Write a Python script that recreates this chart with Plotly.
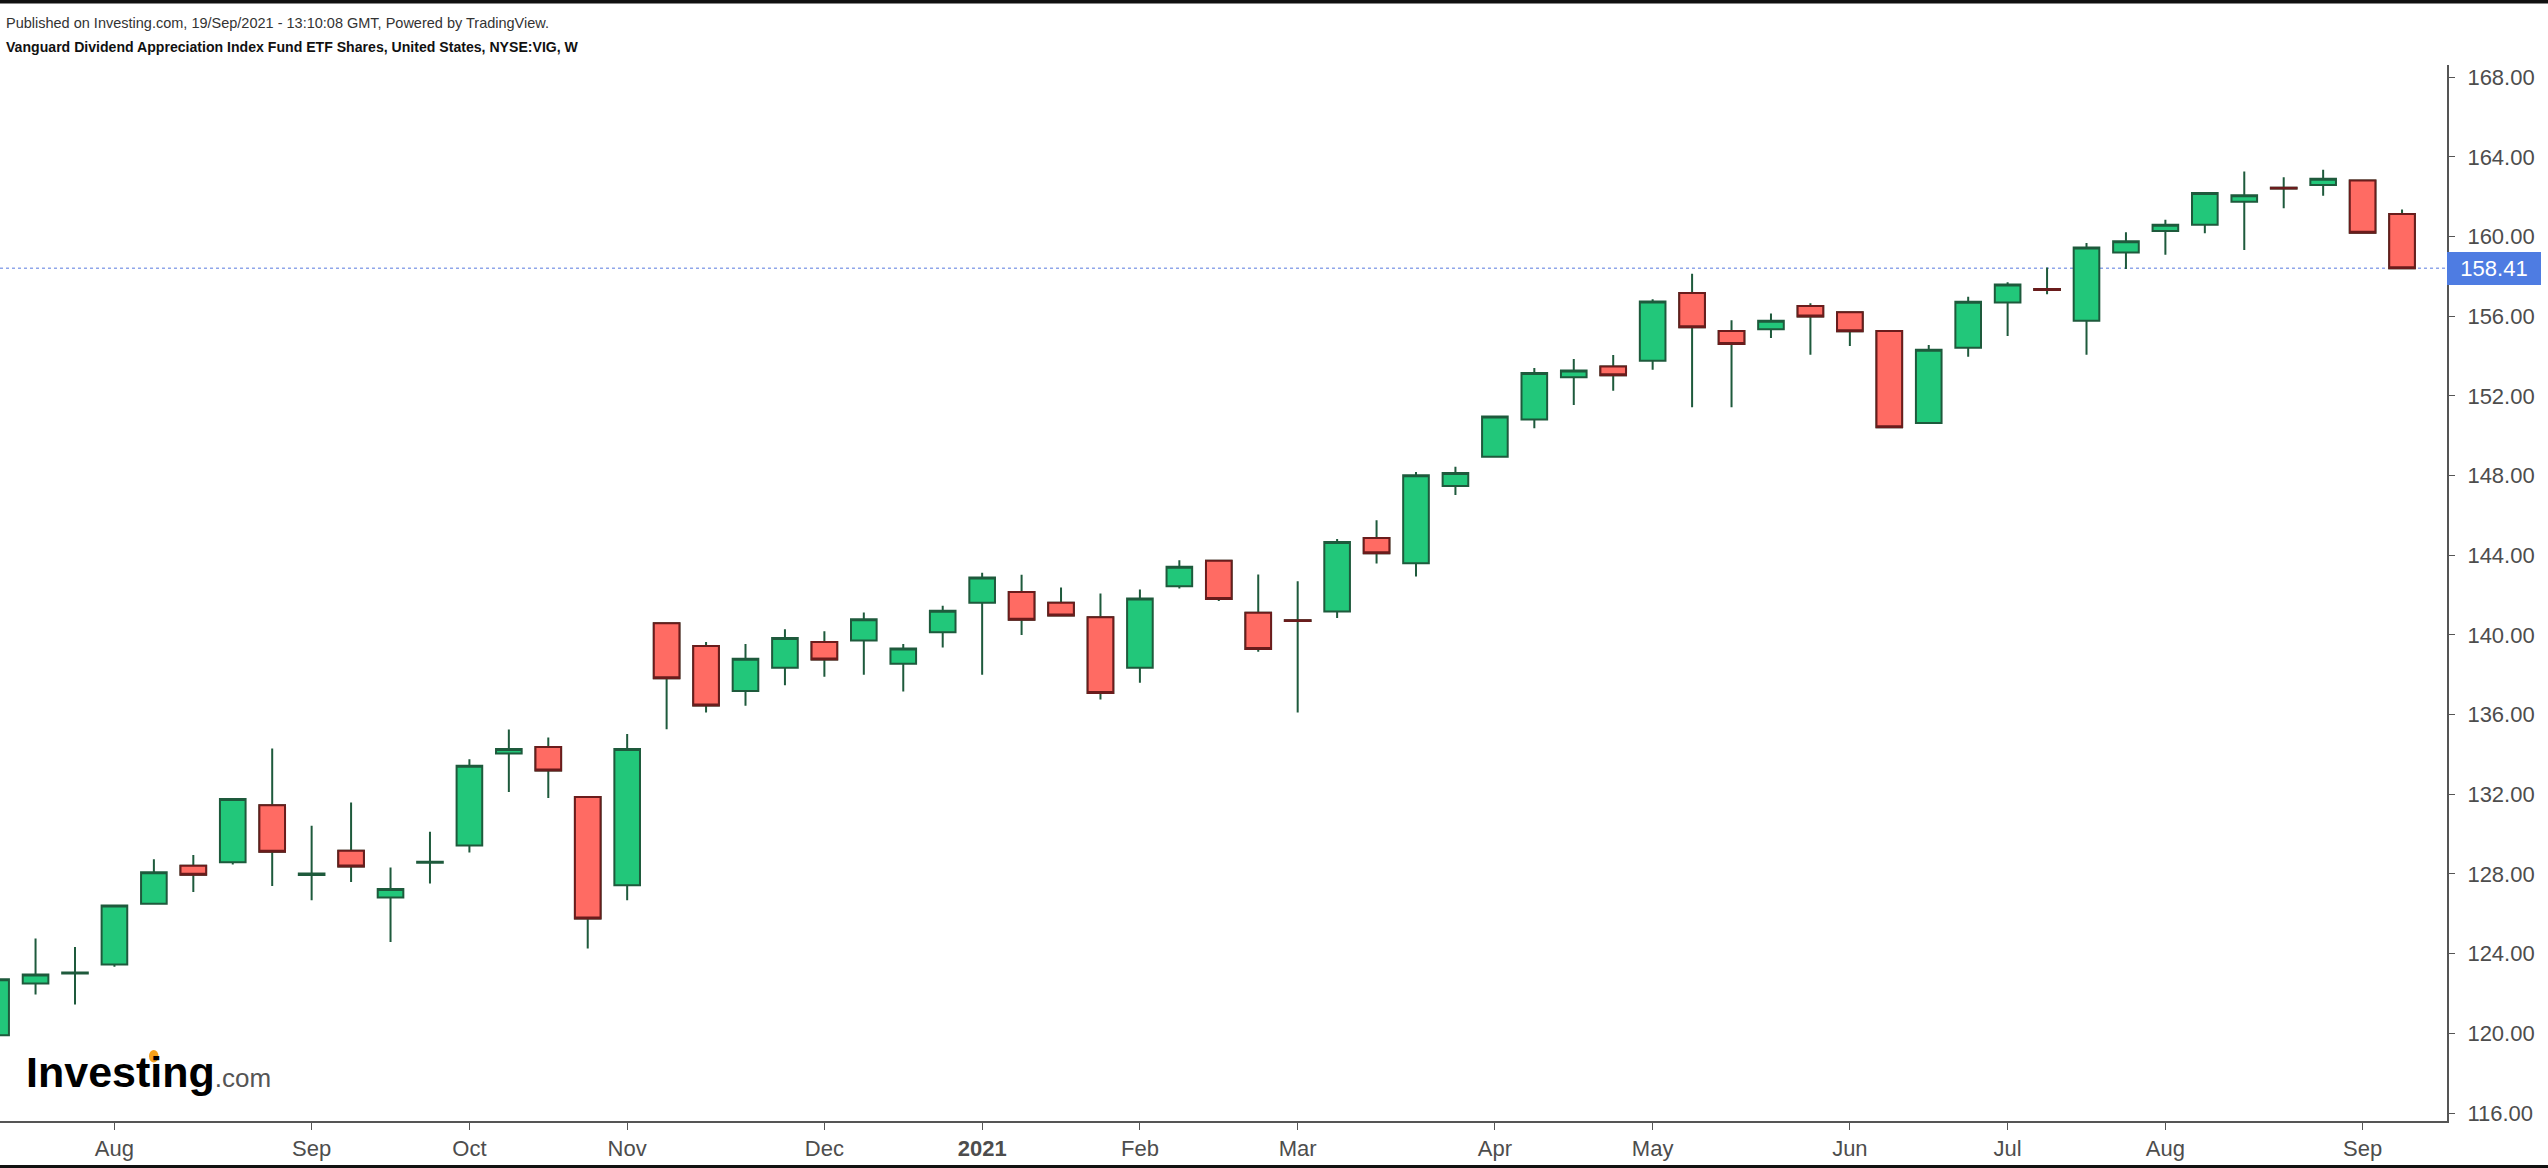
import pandas as pd
import plotly.graph_objects as go

# ---------------- data (weekly bars, NYSE:VIG) ----------------
dates = pd.date_range("2020-07-13", periods=62, freq="7D")

opens = [119.91, 122.50, 123.00, 123.46, 126.50, 128.41, 128.59, 131.45, 127.95, 129.16,
         126.82, 128.57, 129.43, 134.05, 134.38, 131.86, 127.44, 140.59, 139.44, 137.19,
         138.35, 139.64, 139.72, 138.55, 140.14, 141.61, 142.15, 141.61, 140.89, 138.35,
         142.45, 143.72, 141.11, 140.74, 141.18, 144.86, 143.60, 147.48, 148.94, 150.82,
         152.93, 153.47, 153.76, 157.16, 155.26, 155.35, 156.51, 156.20, 155.26, 150.64,
         154.41, 156.69, 157.36, 155.77, 159.20, 160.28, 160.59, 161.74, 162.45, 162.59,
         162.81, 161.13]
highs = [122.80, 124.76, 124.34, 126.45, 128.74, 128.95, 131.80, 134.30, 130.42, 131.59,
         128.33, 130.12, 133.76, 135.25, 134.85, 131.90, 135.03, 140.62, 139.65, 139.55,
         140.29, 140.19, 141.13, 139.55, 141.46, 143.12, 143.02, 142.38, 142.08, 142.28,
         143.75, 143.75, 143.03, 142.70, 144.81, 145.76, 148.18, 148.44, 151.00, 153.40,
         153.85, 154.05, 156.85, 158.13, 155.80, 156.13, 156.65, 156.22, 155.28, 154.56,
         156.98, 157.70, 158.44, 159.67, 160.21, 160.84, 162.20, 163.26, 162.97, 163.35,
         162.85, 161.35]
lows = [119.80, 121.95, 121.45, 123.34, 126.45, 127.10, 128.48, 127.40, 126.68, 127.60,
        124.59, 127.52, 129.08, 132.12, 131.82, 124.26, 126.68, 135.27, 136.11, 136.44,
        137.48, 137.90, 138.00, 137.16, 139.37, 138.00, 140.00, 140.95, 136.76, 137.60,
        142.33, 141.70, 139.15, 136.11, 140.85, 143.58, 142.93, 147.03, 148.90, 150.37,
        151.54, 152.26, 153.31, 151.43, 151.43, 154.90, 154.07, 154.50, 150.40, 150.60,
        153.96, 155.01, 157.10, 154.07, 158.37, 159.09, 160.17, 159.32, 161.42, 162.05,
        160.15, 158.38]
closes = [122.72, 122.95, 123.05, 126.42, 128.09, 127.96, 131.76, 129.11, 128.02, 128.37,
          127.25, 128.61, 133.43, 134.28, 133.19, 125.76, 134.27, 137.83, 136.46, 138.80,
          139.84, 138.77, 140.79, 139.32, 141.21, 142.88, 140.76, 140.98, 137.09, 141.83,
          143.42, 141.80, 139.29, 140.70, 144.66, 144.10, 148.02, 148.13, 150.96, 153.15,
          153.27, 153.04, 156.74, 155.44, 154.61, 155.77, 155.98, 155.24, 150.42, 154.32,
          156.72, 157.59, 157.32, 159.45, 159.76, 160.59, 162.18, 162.07, 162.41, 162.90,
          160.19, 158.41]

last_price = 158.41

tick_dates = ["2020-08-03", "2020-09-07", "2020-10-05", "2020-11-02", "2020-12-07",
              "2021-01-04", "2021-02-01", "2021-03-01", "2021-04-05", "2021-05-03",
              "2021-06-07", "2021-07-05", "2021-08-02", "2021-09-06"]
tick_labels = ["Aug", "Sep", "Oct", "Nov", "Dec", "<b>2021</b>", "Feb", "Mar", "Apr",
               "May", "Jun", "Jul", "Aug", "Sep"]
y_ticks = [116, 120, 124, 128, 132, 136, 140, 144, 148, 152, 156, 160, 164, 168]

header_1 = "Published on Investing.com, 19/Sep/2021 - 13:10:08 GMT, Powered by TradingView."
header_2 = "Vanguard Dividend Appreciation Index Fund ETF Shares, United States, NYSE:VIG, W"

# ---------------- styling ----------------
W, H = 2548, 1168
L, R, T, B = 0, 101, 65, 47
PW, PH = W - L - R, H - T - B
FONT = "Liberation Sans, Arial, sans-serif"
GREEN_FILL = "#22C77A"
GREEN_LINE = "#1E5A3C"
RED_FILL = "#FF6B63"
RED_LINE = "#6A1C1C"
AXIS = "#555555"
TXT = "#4d4d4d"


def px_x(p):
    return (p - L) / PW


def px_y(p):
    return 1 - (p - T) / PH


fig = go.Figure()

# all candles: wicks dark green, bodies coloured
fig.add_trace(go.Candlestick(
    x=dates, open=opens, high=highs, low=lows, close=closes,
    increasing=dict(line=dict(color=GREEN_LINE, width=2), fillcolor=GREEN_FILL),
    decreasing=dict(line=dict(color=GREEN_LINE, width=2), fillcolor=RED_FILL),
    whiskerwidth=0, showlegend=False, hoverinfo="skip"))

# falling candles: overlay body with dark-red outline
dn = [k for k in range(len(opens)) if closes[k] < opens[k]]
fig.add_trace(go.Candlestick(
    x=[dates[k] for k in dn],
    open=[opens[k] for k in dn], high=[opens[k] for k in dn],
    low=[closes[k] for k in dn], close=[closes[k] for k in dn],
    increasing=dict(line=dict(color=RED_LINE, width=2), fillcolor=RED_FILL),
    decreasing=dict(line=dict(color=RED_LINE, width=2), fillcolor=RED_FILL),
    whiskerwidth=0, showlegend=False, hoverinfo="skip"))

x_start = (dates[0] + pd.Timedelta(days=0.69)).strftime("%Y-%m-%d %H:%M:%S")
x_end = (dates[-1] + pd.Timedelta(days=7.98)).strftime("%Y-%m-%d %H:%M:%S")

fig.update_layout(
    width=W, height=H, template="none",
    paper_bgcolor="white", plot_bgcolor="white",
    margin=dict(l=L, r=R, t=T, b=B, pad=0, autoexpand=False),
    showlegend=False, boxgap=0.35, boxgroupgap=0,
    font=dict(family=FONT, color=TXT),
    xaxis=dict(
        type="date", range=[x_start, x_end], tickvals=tick_dates, ticktext=tick_labels,
        ticks="outside", ticklen=7, tickwidth=1, tickcolor=AXIS,
        showline=True, linecolor=AXIS, linewidth=2, mirror=False,
        showgrid=False, zeroline=False, automargin=False,
        rangeslider=dict(visible=False),
        tickfont=dict(family=FONT, size=22, color=TXT),
    ),
    yaxis=dict(
        side="right", range=[115.6, 168.61], tickvals=y_ticks, tickformat=".2f",
        ticks="outside", ticklen=6, tickwidth=1, tickcolor=AXIS,
        showline=True, linecolor=AXIS, linewidth=2,
        showgrid=False, zeroline=False, automargin=False,
        ticklabelstandoff=8,
        tickfont=dict(family=FONT, size=22, color=TXT),
    ),
)

shapes = [
    dict(type="line", xref="paper", yref="y", x0=0, x1=1, y0=last_price, y1=last_price,
         line=dict(color="#8FA6EA", width=1.5, dash="dot"), layer="below"),
    dict(type="rect", xref="paper", yref="paper", x0=px_x(0), x1=px_x(W),
         y0=px_y(3.5), y1=px_y(0), fillcolor="#111111", line=dict(width=0)),
    dict(type="rect", xref="paper", yref="paper", x0=px_x(0), x1=px_x(W),
         y0=px_y(H), y1=px_y(1165), fillcolor="#111111", line=dict(width=0)),
    # orange tittle of the logo's "i"
    dict(type="circle", xref="paper", yref="paper", x0=px_x(149), x1=px_x(158.5),
         y0=px_y(1062.5), y1=px_y(1050), fillcolor="#F6A11C", line=dict(width=0)),
]
fig.update_layout(shapes=shapes)

annotations = [
    dict(text=header_1, xref="paper", yref="paper", x=px_x(4), y=px_y(22.7),
         xanchor="left", yanchor="middle", showarrow=False,
         font=dict(family=FONT, size=14.5, color="#333333")),
    dict(text="<b>" + header_2 + "</b>", xref="paper", yref="paper", x=px_x(4), y=px_y(46.7),
         xanchor="left", yanchor="middle", showarrow=False,
         font=dict(family=FONT, size=14.1, color="#111111")),
    dict(text="<b>Investing</b><span style='font-size:26px;color:#555555'>.com</span>",
         xref="paper", yref="paper", x=px_x(24), y=px_y(1072),
         xanchor="left", yanchor="middle", showarrow=False,
         font=dict(family=FONT, size=43, color="#000000")),
    dict(text=f"{last_price:.2f}", xref="paper", yref="y", x=1, y=last_price,
         xanchor="left", yanchor="middle", showarrow=False,
         width=90, height=29, borderpad=2, borderwidth=0, bgcolor="#4E7CE2",
         align="center", font=dict(family=FONT, size=22, color="white")),
]
fig.update_layout(annotations=annotations)

fig.write_html("out.html", config={"displayModeBar": False})
